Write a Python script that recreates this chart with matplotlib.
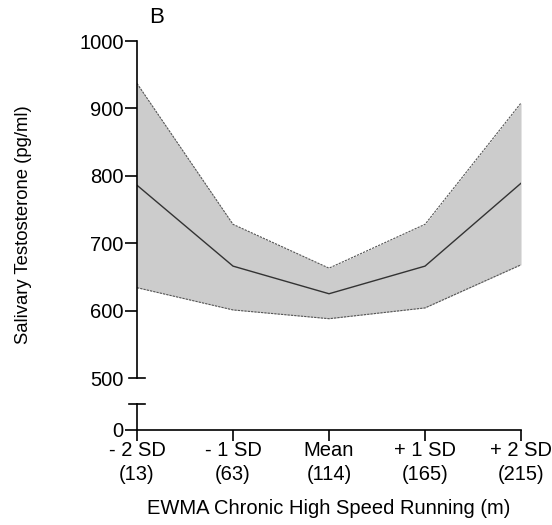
import matplotlib

matplotlib.use("Agg")
import matplotlib.pyplot as plt
import numpy as np

plt.rcParams["font.family"] = ["Liberation Sans", "DejaVu Sans"]

# values
categories = ["- 2 SD\n(13)", "- 1 SD\n(63)", "Mean\n(114)", "+ 1 SD\n(165)", "+ 2 SD\n(215)"]
mean_t = [786, 666, 625, 666, 789]
upper_t = [937, 728, 663, 728, 908]
lower_t = [634, 601, 588, 604, 668]
y_ticks_top = [500, 600, 700, 800, 900, 1000]

x = np.arange(len(categories))
fig = plt.figure(figsize=(5.52, 5.25), dpi=100)

ax_top = fig.add_axes([0.2482, 0.28, 0.6957, 0.6419])
ax_bot = fig.add_axes([0.2482, 0.181, 0.6957, 0.0495])

ax_top.fill_between(x, lower_t, upper_t, color="#cccccc", lw=0)
ax_top.plot(x, upper_t, color="#555555", lw=0.8, ls=(0, (2, 1)))
ax_top.plot(x, lower_t, color="#555555", lw=0.8, ls=(0, (2, 1)))
ax_top.plot(x, mean_t, color="#333333", lw=1.0)

for ax in (ax_top, ax_bot):
    ax.set_xlim(0, len(categories) - 1)
    ax.spines["top"].set_visible(False)
    ax.spines["right"].set_visible(False)
    ax.spines["left"].set_linewidth(1.2)
    ax.spines["bottom"].set_linewidth(1.2)
    ax.patch.set_alpha(0)

half = 8 / 384  # half width of the break marks, in axes fraction

ax_top.set_ylim(500, 1000)
ax_top.spines["bottom"].set_visible(False)
ax_top.set_xticks([])
ax_top.set_yticks(y_ticks_top)
ax_top.tick_params(axis="y", length=8.5, width=1.2, labelsize=14.5, pad=1)
ax_top.yaxis.get_major_ticks()[0].tick1line.set_visible(False)
ax_top.plot([-half, half], [500, 500], color="black", lw=1.2, clip_on=False,
            transform=ax_top.get_yaxis_transform())

ax_bot.set_ylim(0, 1)
ax_bot.set_yticks([0])
ax_bot.tick_params(axis="y", length=8.5, width=1.2, labelsize=14.5, pad=1)
ax_bot.plot([-half, half], [1, 1], color="black", lw=1.2, clip_on=False,
            transform=ax_bot.get_yaxis_transform())
ax_bot.set_xticks(x, categories)
ax_bot.tick_params(axis="x", length=8, width=1.2, labelsize=14.5, pad=0)
for lab in ax_bot.get_xticklabels():
    lab.set_linespacing(1.3)

ax_bot.set_xlabel("EWMA Chronic High Speed Running (m)", fontsize=14.5, labelpad=11)
fig.text(0.043, 0.573, "Salivary Testosterone (pg/ml)", rotation=90, fontsize=13.3,
         ha="center", va="center")
fig.text(0.283, 0.966, "B", fontsize=16, ha="center", va="center")

fig.savefig("out.png", dpi=100)
